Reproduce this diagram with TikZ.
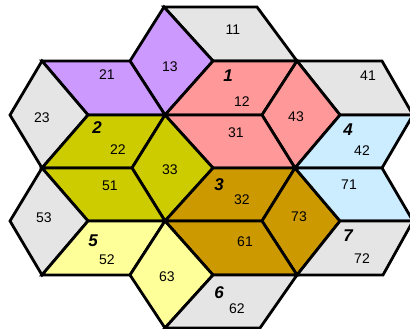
\documentclass[tikz,border=0pt]{standalone}
\usepackage{fontspec}
\setmainfont{Liberation Sans}
\definecolor{cgray}{HTML}{E5E5E5}
\definecolor{cpurple}{HTML}{CC99FF}
\definecolor{cpink}{HTML}{FF9999}
\definecolor{colive}{HTML}{CCCC00}
\definecolor{cblue}{HTML}{CCECFF}
\definecolor{cgold}{HTML}{CC9900}
\definecolor{cyellow}{HTML}{FFFF99}
\begin{document}
\begin{tikzpicture}[x=1pt,y=-1pt,
  tile/.style={draw=black,line width=2.8pt},
  num/.style={font=\fontsize{14}{14}\selectfont, inner sep=0pt},
  hexnum/.style={font=\fontsize{17}{17}\selectfont\bfseries\itshape, inner sep=0pt}]
\useasboundingbox (0,0) rectangle (410,329);
% vertices
\coordinate (A) at (164,7);   \coordinate (B) at (257,7);
\coordinate (C) at (42,61);   \coordinate (D) at (130,61);  \coordinate (E) at (213,61);
\coordinate (F) at (297,61);  \coordinate (G) at (382,61);
\coordinate (H) at (10,115);  \coordinate (I) at (88,115);  \coordinate (J) at (165,115);
\coordinate (K) at (262,115); \coordinate (L) at (340,115); \coordinate (M) at (413,115);
\coordinate (N) at (42,168);  \coordinate (O) at (132,168); \coordinate (P) at (213,168);
\coordinate (Q) at (295,168); \coordinate (R) at (382,168);
\coordinate (S) at (10,221);  \coordinate (T) at (88,221);  \coordinate (U) at (165,221);
\coordinate (V) at (262,221); \coordinate (W) at (340,221); \coordinate (X) at (413,221);
\coordinate (Y) at (42,275);  \coordinate (Z) at (130,275); \coordinate (AA) at (213,275);
\coordinate (AB) at (297,275); \coordinate (AC) at (383,275);
\coordinate (AD) at (165,328); \coordinate (AE) at (260,328);
% tiles
\filldraw[tile,fill=cgray]   (A) -- (B) -- (F) -- (E) -- cycle;   % 11
\filldraw[tile,fill=cpurple] (A) -- (E) -- (J) -- (D) -- cycle;   % 13
\filldraw[tile,fill=cpink]   (E) -- (F) -- (K) -- (J) -- cycle;   % 12
\filldraw[tile,fill=cpurple] (C) -- (D) -- (J) -- (I) -- cycle;   % 21
\filldraw[tile,fill=cgray]   (C) -- (I) -- (N) -- (H) -- cycle;   % 23
\filldraw[tile,fill=colive]  (I) -- (J) -- (O) -- (N) -- cycle;   % 22
\filldraw[tile,fill=cgray]   (F) -- (G) -- (M) -- (L) -- cycle;   % 41
\filldraw[tile,fill=cpink]   (F) -- (L) -- (Q) -- (K) -- cycle;   % 43
\filldraw[tile,fill=cblue]   (L) -- (M) -- (R) -- (Q) -- cycle;   % 42
\filldraw[tile,fill=cpink]   (J) -- (K) -- (Q) -- (P) -- cycle;   % 31
\filldraw[tile,fill=colive]  (J) -- (P) -- (U) -- (O) -- cycle;   % 33
\filldraw[tile,fill=cgold]   (P) -- (Q) -- (V) -- (U) -- cycle;   % 32
\filldraw[tile,fill=cgold]   (Q) -- (W) -- (AB) -- (V) -- cycle;  % 73
\filldraw[tile,fill=cblue]   (Q) -- (R) -- (X) -- (W) -- cycle;   % 71
\filldraw[tile,fill=cgray]   (W) -- (X) -- (AC) -- (AB) -- cycle; % 72
\filldraw[tile,fill=colive]  (N) -- (O) -- (U) -- (T) -- cycle;   % 51
\filldraw[tile,fill=cgray]   (N) -- (T) -- (Y) -- (S) -- cycle;   % 53
\filldraw[tile,fill=cyellow] (T) -- (U) -- (Z) -- (Y) -- cycle;   % 52
\filldraw[tile,fill=cgold]   (U) -- (V) -- (AB) -- (AA) -- cycle; % 61
\filldraw[tile,fill=cyellow] (U) -- (AA) -- (AD) -- (Z) -- cycle; % 63
\filldraw[tile,fill=cgray]   (AA) -- (AB) -- (AE) -- (AD) -- cycle; % 62
% labels
\node[num] (t11) at (233,30) {11};
\node[num] (t13) at (170,67) {13};
\node[num] (t12) at (242,102) {12};
\node[hexnum] (h1) at (228,76) {1};
\node[num] (t21) at (107,75) {21};
\node[num] (t23) at (42,118) {23};
\node[num] (t22) at (118,150) {22};
\node[hexnum] (h2) at (97,128) {2};
\node[num] (t41) at (368,76) {41};
\node[num] (t43) at (296,117) {43};
\node[num] (t42) at (362,151) {42};
\node[hexnum] (h4) at (348,130) {4};
\node[num] (t31) at (236,133) {31};
\node[num] (t33) at (170,170) {33};
\node[num] (t32) at (242,200) {32};
\node[hexnum] (h3) at (219,185) {3};
\node[num] (t51) at (110,186) {51};
\node[num] (t53) at (44,218) {53};
\node[num] (t52) at (107,260) {52};
\node[hexnum] (h5) at (93,241) {5};
\node[num] (t71) at (349,185) {71};
\node[num] (t73) at (299,217) {73};
\node[num] (t72) at (362,259) {72};
\node[hexnum] (h7) at (348,236) {7};
\node[num] (t61) at (245,242) {61};
\node[num] (t63) at (167,277) {63};
\node[num] (t62) at (237,309) {62};
\node[hexnum] (h6) at (219,293) {6};
\end{tikzpicture}
\end{document}
